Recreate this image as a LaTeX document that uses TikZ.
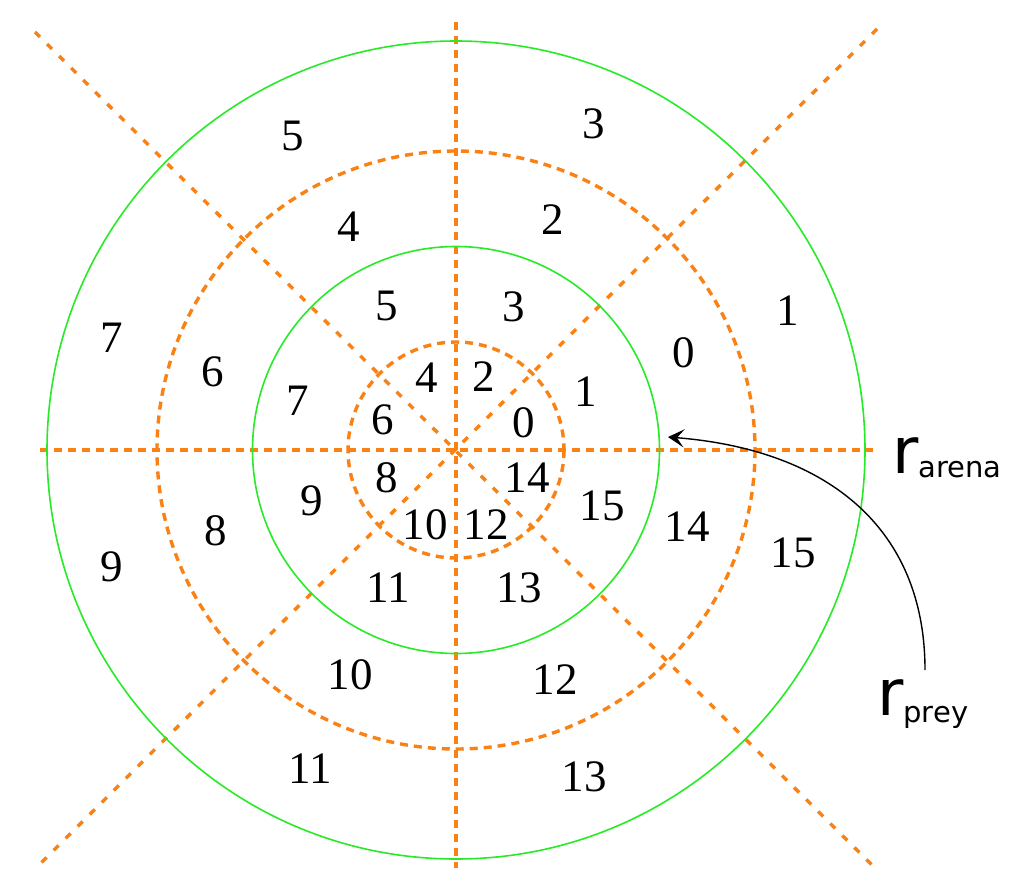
\documentclass[tikz,border=0pt]{standalone}
\usepackage{fontspec}
\setmainfont{Liberation Serif}
\newfontfamily\labfont{DejaVu Sans}
\usetikzlibrary{arrows.meta}
\definecolor{gr}{RGB}{40,235,40}
\definecolor{orng}{RGB}{250,130,20}
\tikzset{
  greenring/.style={draw=gr, line width=1.6pt},
  orangering/.style={draw=orng, line width=3.4pt, dash pattern=on 8pt off 6pt},
  orangeline/.style={draw=orng, line width=3.4pt, dash pattern=on 8pt off 6pt},
  orangediag/.style={draw=orng, line width=3.4pt, dash pattern=on 7pt off 10pt},
  num/.style={font=\fontsize{45}{48}\selectfont, inner sep=0pt},
  lab/.style={anchor=base west, inner sep=0pt, font=\labfont},
  pointer/.style={draw=black, line width=1.4pt}
}
\begin{document}
\begin{tikzpicture}[x=1pt,y=-1pt]
\useasboundingbox[fill=white] (0,0) rectangle (1024,894);
\coordinate (c) at (456,450);
% radial dashed lines
\coordinate (hl) at (40,450);
\coordinate (hr) at (873,450);
\coordinate (vt) at (456,22);
\coordinate (vb) at (456,868);
\coordinate (d1a) at (35,32);
\coordinate (d1b) at (877,870);
\coordinate (d2a) at (877,29);
\coordinate (d2b) at (35,869);
\draw[orangeline] (hl) -- (hr);
\draw[orangeline] (vt) -- (vb);
\draw[orangediag] (d1a) -- (d1b);
\draw[orangediag] (d2a) -- (d2b);
% rings
\draw[greenring] (c) circle[radius=409];
\draw[orangering] (c) circle[radius=299];
\draw[greenring] (c) circle[radius=203.5];
\draw[orangering] (c) circle[radius=108];
% numbers: outermost ring
\node[num] (o5) at (293,136) {5};
\node[num] (o3) at (594,124) {3};
\node[num] (o1) at (788,311) {1};
\node[num] (o7) at (112,338) {7};
\node[num] (o9) at (112,567) {9};
\node[num] (o15) at (793,553) {15};
\node[num] (o11) at (310,769) {11};
\node[num] (o13) at (584,777) {13};
% second ring
\node[num] (s4) at (349,227) {4};
\node[num] (s2) at (553,220) {2};
\node[num] (s6) at (213,372) {6};
\node[num] (s0) at (684,353) {0};
\node[num] (s8) at (216,531) {8};
\node[num] (s14) at (687,527) {14};
\node[num] (s10) at (350,675) {10};
\node[num] (s12) at (555,680) {12};
% third ring
\node[num] (t5) at (387,306) {5};
\node[num] (t3) at (514,307) {3};
\node[num] (t7) at (298,401) {7};
\node[num] (t1) at (586,392) {1};
\node[num] (t9) at (312,501) {9};
\node[num] (t15) at (602,506) {15};
\node[num] (t11) at (388,588) {11};
\node[num] (t13) at (519,588) {13};
% innermost ring
\node[num] (i4) at (427,378) {4};
\node[num] (i2) at (484,377) {2};
\node[num] (i6) at (383,420) {6};
\node[num] (i0) at (524,423) {0};
\node[num] (i8) at (387,478) {8};
\node[num] (i14) at (527,478) {14};
\node[num] (i10) at (425,525) {10};
\node[num] (i12) at (486,525) {12};
% labels
\node[lab] (rarena) at (892,473) {\fontsize{64}{64}\selectfont r\raisebox{-4pt}{\fontsize{29}{29}\selectfont arena}};
\node[lab] (rprey) at (877,715) {\fontsize{64}{64}\selectfont r\raisebox{-7pt}{\fontsize{29}{29}\selectfont prey}};
% pointer
\coordinate (pstart) at (925,670);
\coordinate (ptip) at (668,437);
\draw[pointer, arrows={-Stealth[length=16pt,width=18pt,inset=7pt]}] (pstart) .. controls (925,530) and (830,450) .. (ptip);
\end{tikzpicture}
\end{document}
